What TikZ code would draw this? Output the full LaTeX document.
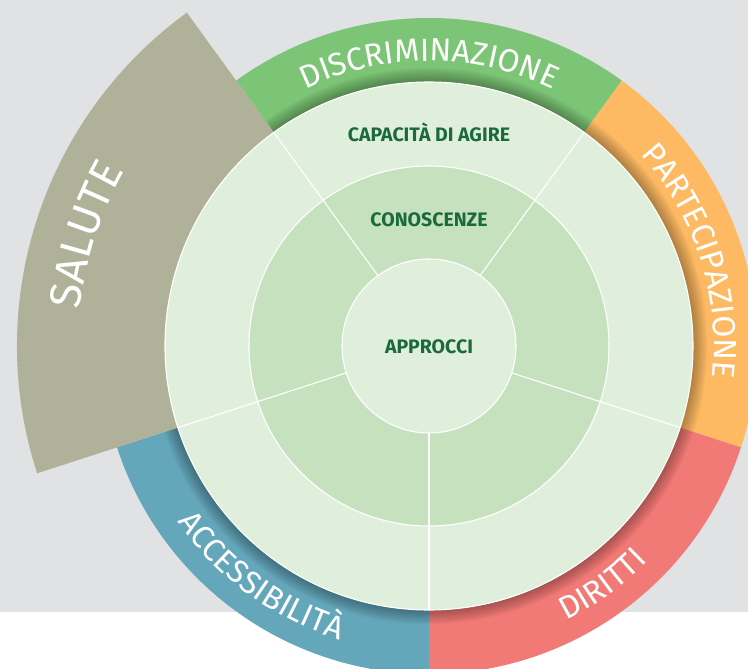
\documentclass[tikz,border=0pt]{standalone}
\usepackage{fontspec}
\newfontfamily\dinfont{Fira Sans}
\usetikzlibrary{positioning,decorations.text}

\definecolor{bggray}{HTML}{E1E2E4}
\definecolor{ringgreen}{HTML}{7DC576}
\definecolor{ringorange}{HTML}{FDBA63}
\definecolor{ringred}{HTML}{F27A76}
\definecolor{ringblue}{HTML}{64A6BA}
\definecolor{sage}{HTML}{AFB199}
\definecolor{palegreen}{HTML}{E0EFDC}
\definecolor{midgreen}{HTML}{C5E1BE}
\definecolor{darkgreen}{HTML}{1B6B3A}

\newcommand{\ringfont}{\dinfont\fontsize{32}{32}\selectfont}
\newcommand{\salutefont}{\dinfont\fontsize{44}{44}\selectfont}

\tikzset{
  inlabel/.style={text=darkgreen, font=\dinfont\bfseries\fontsize{19.5}{19.5}\selectfont, anchor=center},
  ringlabel/.style={decorate, decoration={text along path, text align=center, text color=white, text={#1}}},
  spoke/.style={white, line width=1.1pt},
  rim/.style={draw=white, line width=1.1pt}
}

\begin{document}
\begin{tikzpicture}[x=1pt,y=1pt]
				\useasboundingbox (-429,-323) rectangle (319,346);
				\fill[white] (-429,-323) rectangle (319,346);
				\fill[bggray] (-429,-266) rectangle (319,346);
				% radii of the wheel
				\def\rA{87pt}
				\def\rB{180pt}
				\def\rC{264pt}
				\def\rD{328pt}
				% Outer coloured ring
				\foreach \a/\b/\c in {54/126/ringgreen, -18/54/ringorange, -90/-18/ringred, 198/270/ringblue}
				  \fill[\c] (\a:\rC) arc[start angle=\a, end angle=\b, radius=\rC]
				    -- (\b:\rD) arc[start angle=\b, end angle=\a, radius=\rD] -- cycle;
				% shadow under the wheel
				\foreach \s in {1,...,12}
				  \fill[black, opacity=0.028] (0,0) circle[radius=264pt+1.2pt*\s];
				% Salute sector
				\fill[sage] (126:\rC) arc[start angle=126, end angle=198, radius=\rC]
				  -- (198:412pt) arc[start angle=198, end angle=126, radius=412pt] -- cycle;
				% Wheel
				\filldraw[fill=palegreen, rim] (0,0) circle[radius=\rC];
				\filldraw[fill=midgreen, rim] (0,0) circle[radius=\rB];
				\filldraw[fill=palegreen, rim] (0,0) circle[radius=\rA];
				\foreach \a in {54,126,198,270,342}
				  \draw[spoke] (\a:\rA) -- (\a:\rC);
				% Inner labels
				\node[inlabel] (agire) at (0,214) {CAPACITÀ DI AGIRE};
				\node[inlabel] (conoscenze) at (0,126) {CONOSCENZE};
				\node[inlabel] (approcci) at (0,-1) {APPROCCI};
				% Ring labels
				\path[ringlabel={|\ringfont|DISCRIMINAZIONE}] (126:285pt) arc[start angle=126, end angle=54, radius=285pt];
				\path[ringlabel={|\ringfont|PARTECIPAZIONE}] (54:285pt) arc[start angle=54, end angle=-18, radius=285pt];
				\path[ringlabel={|\ringfont|DIRITTI}] (-90:307pt) arc[start angle=-90, end angle=-18, radius=307pt];
				\path[ringlabel={|\ringfont|ACCESSIBILITÀ}] (198:307pt) arc[start angle=198, end angle=270, radius=307pt];
				\path[ringlabel={|\salutefont|SALUTE}] (198:351pt) arc[start angle=198, end angle=126, radius=351pt];
\end{tikzpicture}
\end{document}
